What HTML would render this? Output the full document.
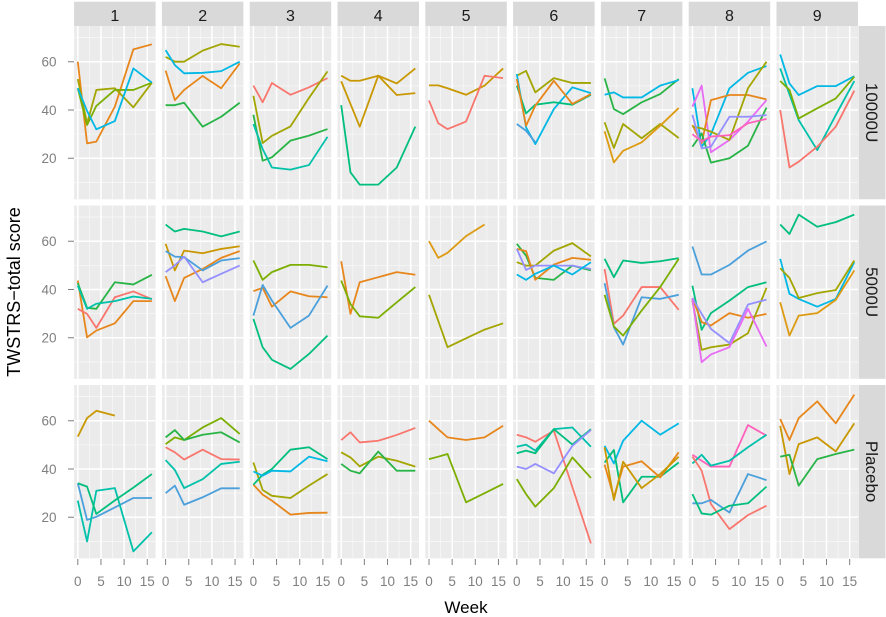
<!DOCTYPE html>
<html>
<head>
<meta charset="utf-8">
<style>
html,body{margin:0;padding:0;background:#fff;}
svg{display:block;}
polyline{fill:none;stroke-width:1.8;vector-effect:non-scaling-stroke;stroke-linejoin:round;stroke-linecap:butt;}
.R{stroke:#F8766D}.O{stroke:#E7861B}.G1{stroke:#C99800}.OL{stroke:#A3A500}.LG{stroke:#7CAE00}
.GR{stroke:#28B446}.TG{stroke:#00BF7D}.TL{stroke:#00C1AA}.CY{stroke:#00B8E5}.BL{stroke:#4BA0DC}
.PU{stroke:#9590FF}.PK{stroke:#E76BF3}.MG{stroke:#FF62BC}.O2{stroke:#DE9A10}
.tk{font-family:"Liberation Sans",Arial,sans-serif;font-size:13.5px;fill:#7F7F7F;}
.st{font-family:"Liberation Sans",Arial,sans-serif;font-size:16px;fill:#1A1A1A;}
.ti{font-family:"Liberation Sans",Arial,sans-serif;fill:#000;}
</style>
</head>
<body>
<svg width="886" height="617" viewBox="0 0 886 617" xmlns="http://www.w3.org/2000/svg">
<defs>
<g id="pn">
<rect width="81.5" height="173.3" fill="#EBEBEB"/>
<path d="M15.28 0V173.3M38.43 0V173.3M61.59 0V173.3M0 11.55H81.5M0 59.85H81.5M0 108.15H81.5M0 156.45H81.5" stroke="#F7F7F7" stroke-width="0.8" fill="none"/>
<path d="M3.7 0V173.3M26.86 0V173.3M50.01 0V173.3M73.17 0V173.3M0 35.7H81.5M0 84H81.5M0 132.3H81.5" stroke="#FFFFFF" stroke-width="1.5" fill="none"/>
</g>
</defs>

<!-- panels -->
<g>
<use href="#pn" x="74.1" y="26"/><use href="#pn" x="161.9" y="26"/><use href="#pn" x="249.7" y="26"/><use href="#pn" x="337.5" y="26"/><use href="#pn" x="425.3" y="26"/><use href="#pn" x="513.1" y="26"/><use href="#pn" x="600.9" y="26"/><use href="#pn" x="688.7" y="26"/><use href="#pn" x="776.5" y="26"/>
<use href="#pn" x="74.1" y="205.5"/><use href="#pn" x="161.9" y="205.5"/><use href="#pn" x="249.7" y="205.5"/><use href="#pn" x="337.5" y="205.5"/><use href="#pn" x="425.3" y="205.5"/><use href="#pn" x="513.1" y="205.5"/><use href="#pn" x="600.9" y="205.5"/><use href="#pn" x="688.7" y="205.5"/><use href="#pn" x="776.5" y="205.5"/>
<use href="#pn" x="74.1" y="385"/><use href="#pn" x="161.9" y="385"/><use href="#pn" x="249.7" y="385"/><use href="#pn" x="337.5" y="385"/><use href="#pn" x="425.3" y="385"/><use href="#pn" x="513.1" y="385"/><use href="#pn" x="600.9" y="385"/><use href="#pn" x="688.7" y="385"/><use href="#pn" x="776.5" y="385"/>
</g>

<!-- top strips -->
<g fill="#D9D9D9">
<rect x="74.1" y="1.7" width="81.5" height="24.3"/><rect x="161.9" y="1.7" width="81.5" height="24.3"/><rect x="249.7" y="1.7" width="81.5" height="24.3"/><rect x="337.5" y="1.7" width="81.5" height="24.3"/><rect x="425.3" y="1.7" width="81.5" height="24.3"/><rect x="513.1" y="1.7" width="81.5" height="24.3"/><rect x="600.9" y="1.7" width="81.5" height="24.3"/><rect x="688.7" y="1.7" width="81.5" height="24.3"/><rect x="776.5" y="1.7" width="81.5" height="24.3"/>
<rect x="858.5" y="26" width="27" height="173.3"/><rect x="858.5" y="205.5" width="27" height="173.3"/><rect x="858.5" y="385" width="27" height="173.3"/>
</g>
<g class="st" text-anchor="middle">
<text x="114.85" y="20.8">1</text><text x="202.65" y="20.8">2</text><text x="290.45" y="20.8">3</text><text x="378.25" y="20.8">4</text><text x="466.05" y="20.8">5</text><text x="553.85" y="20.8">6</text><text x="641.65" y="20.8">7</text><text x="729.45" y="20.8">8</text><text x="817.25" y="20.8">9</text>
</g>
<g class="st" text-anchor="middle" style="font-size:17px">
<text transform="translate(866,112.65) rotate(90)">10000U</text>
<text transform="translate(866,292.15) rotate(90)">5000U</text>
<text transform="translate(866,471.65) rotate(90)">Placebo</text>
</g>

<!-- ticks -->
<path stroke="#7F7F7F" stroke-width="1" fill="none" d="M68 61.7H74M68 110H74M68 158.3H74M68 241.2H74M68 289.5H74M68 337.8H74M68 420.7H74M68 469H74M68 517.3H74
M77.8 559V565M100.96 559V565M124.11 559V565M147.27 559V565
M165.6 559V565M188.76 559V565M211.91 559V565M235.07 559V565
M253.4 559V565M276.56 559V565M299.71 559V565M322.87 559V565
M341.2 559V565M364.36 559V565M387.51 559V565M410.67 559V565
M429 559V565M452.16 559V565M475.31 559V565M498.47 559V565
M516.8 559V565M539.96 559V565M563.11 559V565M586.27 559V565
M604.6 559V565M627.76 559V565M650.91 559V565M674.07 559V565
M692.4 559V565M715.56 559V565M738.71 559V565M761.87 559V565
M780.2 559V565M803.36 559V565M826.51 559V565M849.67 559V565"/>

<g class="tk" text-anchor="end">
<text x="56.5" y="66.5">60</text><text x="56.5" y="114.8">40</text><text x="56.5" y="163.1">20</text>
<text x="56.5" y="246">60</text><text x="56.5" y="294.3">40</text><text x="56.5" y="342.6">20</text>
<text x="56.5" y="425.5">60</text><text x="56.5" y="473.8">40</text><text x="56.5" y="522.1">20</text>
</g>
<g class="tk" text-anchor="middle">
<text x="77.8" y="586">0</text><text x="100.96" y="586">5</text><text x="124.11" y="586">10</text><text x="147.27" y="586">15</text>
<text x="165.6" y="586">0</text><text x="188.76" y="586">5</text><text x="211.91" y="586">10</text><text x="235.07" y="586">15</text>
<text x="253.4" y="586">0</text><text x="276.56" y="586">5</text><text x="299.71" y="586">10</text><text x="322.87" y="586">15</text>
<text x="341.2" y="586">0</text><text x="364.36" y="586">5</text><text x="387.51" y="586">10</text><text x="410.67" y="586">15</text>
<text x="429" y="586">0</text><text x="452.16" y="586">5</text><text x="475.31" y="586">10</text><text x="498.47" y="586">15</text>
<text x="516.8" y="586">0</text><text x="539.96" y="586">5</text><text x="563.11" y="586">10</text><text x="586.27" y="586">15</text>
<text x="604.6" y="586">0</text><text x="627.76" y="586">5</text><text x="650.91" y="586">10</text><text x="674.07" y="586">15</text>
<text x="692.4" y="586">0</text><text x="715.56" y="586">5</text><text x="738.71" y="586">10</text><text x="761.87" y="586">15</text>
<text x="780.2" y="586">0</text><text x="803.36" y="586">5</text><text x="826.51" y="586">10</text><text x="849.67" y="586">15</text>
</g>

<text class="ti" x="466" y="613" text-anchor="middle" style="font-size:17px">Week</text>
<text class="ti" transform="translate(20,292) rotate(-90)" text-anchor="middle" style="font-size:18px">TWSTRS&#8722;total score</text>

<!-- ROW 1: 10000U -->
<g transform="translate(77.8,206.6) scale(4.631,-2.415)">
<polyline class="O" points="0,60 2,26.2 4,26.9 8,41.4 12,65.1 16,67.2"/>
<polyline class="OL" points="0,52.8 2,34.4 4,48.3 8,49 12,41.1 16,51.3"/>
<polyline class="LG" points="0,49 2,33.8 4,41.7 8,48.3 12,48.3 16,51.3"/>
<polyline class="CY" points="0,49 2,39.6 4,32 8,35.4 12,57.2 16,51.3"/>
</g>
<g transform="translate(165.6,206.6) scale(4.631,-2.415)">
<polyline class="OL" points="0,62 2,60 4,60 8,64.6 12,67.3 16,66.2"/>
<polyline class="CY" points="0,64.8 2,58.6 4,55.2 8,55.4 12,56.1 16,60"/>
<polyline class="O" points="0,56.3 2,44.1 4,48.3 8,54.1 12,49 16,59.3"/>
<polyline class="GR" points="0,42 2,42 4,43 8,33.1 12,37.2 16,43"/>
</g>
<g transform="translate(253.4,206.6) scale(4.631,-2.415)">
<polyline class="R" points="0,50.1 2,43.2 4,51.2 8,46.3 12,49.4 16,53.2"/>
<polyline class="OL" points="0,45.9 2,26.3 4,29.3 8,33.2 12,45 16,56"/>
<polyline class="GR" points="0,38 2,19 4,20.4 8,27.3 12,29.4 16,32.1"/>
<polyline class="TL" points="0,34.2 2,23.8 4,16.2 8,15.3 12,17.2 16,28.9"/>
</g>
<g transform="translate(341.2,206.6) scale(4.631,-2.415)">
<polyline class="G1" points="0,54.2 2,52.1 4,52.1 8,54.2 12,51 16,57.2"/>
<polyline class="G1" points="0,51.9 2,42.5 4,33.1 8,54.2 12,46.2 16,47"/>
<polyline class="TG" points="0,42 2,14.2 4,9.1 8,9.1 12,16.2 16,33.1"/>
</g>
<g transform="translate(429,206.6) scale(4.631,-2.415)">
<polyline class="G1" points="0,50.2 2,50.2 4,49 8,46.3 12,50.1 16,57.2"/>
<polyline class="R" points="0,43.9 2,34.5 4,32.1 8,35.2 12,54.2 16,53.2"/>
</g>
<g transform="translate(516.8,206.6) scale(4.631,-2.415)">
<polyline class="OL" points="0,54.2 2,56.2 4,47.3 8,53.2 12,51.2 16,51.2"/>
<polyline class="CY" points="0,54.9 2,32.8 4,25.9 8,40.4 12,49.4 16,47"/>
<polyline class="TG" points="0,50.1 2,38.6 4,42.2 8,43.2 12,42.2 16,46.3"/>
<polyline class="O" points="0,52.8 2,33.5 4,41.8 8,52.1 12,42.5 16,46.6"/>
<polyline class="BL" points="0,34.2 2,31.4 4,26.6"/>
</g>
<g transform="translate(604.6,206.6) scale(4.631,-2.415)">
<polyline class="GR" points="0,53.1 2,40.4 4,38.3 8,43.2 12,46.6 16,52.8"/>
<polyline class="CY" points="0,46.3 2,47.3 4,45.2 8,45.2 12,50.1 16,52.4"/>
<polyline class="OL" points="0,34.9 2,24.3 4,34.2 8,28.3 12,34.2 16,28.4"/>
<polyline class="O2" points="0,31.2 2,18.3 4,23.1 8,26.6 12,33.5 16,40.8"/>
</g>
<g transform="translate(692.4,206.6) scale(4.631,-2.415)">
<polyline class="CY" points="0,49 2,24.8 4,30 8,49 12,55.4 16,58.2"/>
<polyline class="PK" points="0,41.4 2,50.1 4,22.5 8,27.6 12,35.2 16,44.1"/>
<polyline class="O" points="0,33.8 2,26.2 4,44.1 8,46.2 12,46.2 16,44.4"/>
<polyline class="OL" points="0,33.1 2,32.4 4,31 8,27.6 12,49 16,60"/>
<polyline class="GR" points="0,24.8 2,30.3 4,18.2 8,20 12,25.2 16,41"/>
<polyline class="PU" points="0,38 2,24.1 4,24.8 8,37.2 12,37.2 16,37.9"/>
<polyline class="MG" points="0,30 2,27 4,29 8,29.6 12,34.5 16,36.3"/>
</g>
<g transform="translate(780.2,206.6) scale(4.631,-2.415)">
<polyline class="CY" points="0,63 2,51 4,46.2 8,49.9 12,49.9 16,54"/>
<polyline class="TL" points="0,57.2 2,46.5 4,35.8 8,23.4 12,37.9 16,52"/>
<polyline class="LG" points="0,52 2,48.3 4,36.5 8,40.7 12,44.8 16,53.8"/>
<polyline class="R" points="0,40 2,16.2 4,18.6 8,24.8 12,33.1 16,48"/>
</g>

<!-- ROW 2: 5000U -->
<g transform="translate(77.8,386.1) scale(4.631,-2.415)">
<polyline class="O" points="0,43.7 2,20.2 4,23 8,26 12,35.2 16,35.2"/>
<polyline class="R" points="0,32 2,29.9 4,24.1 8,36.8 12,39.2 16,36"/>
<polyline class="GR" points="0,42.6 2,32.4 4,32 8,43 12,42.1 16,46.1"/>
<polyline class="TL" points="0,41.6 2,32 4,34.1 8,35.2 12,37.1 16,36.1"/>
</g>
<g transform="translate(165.6,386.1) scale(4.631,-2.415)">
<polyline class="TG" points="0,66.9 2,64 4,65.1 8,64 12,62 16,64"/>
<polyline class="G1" points="0,58.9 2,47.9 4,56.1 8,55 12,56.8 16,57.9"/>
<polyline class="O" points="0,45.5 2,35.2 4,44.8 8,48.5 12,53.1 16,55.9"/>
<polyline class="BL" points="0,55.9 2,53.6 4,53.4 8,47.9 12,52 16,53"/>
<polyline class="PU" points="0,47.2 2,50 4,53.6 8,43 12,46.5 16,49.9"/>
</g>
<g transform="translate(253.4,386.1) scale(4.631,-2.415)">
<polyline class="LG" points="0,52 2,44 4,47.2 8,50.2 12,50.2 16,49.2"/>
<polyline class="O" points="0,39.3 2,40.7 4,32.9 8,39.2 12,37.2 16,36.8"/>
<polyline class="BL" points="0,29.2 2,41.9 4,35.4 8,24.1 12,29.2 16,41.6"/>
<polyline class="TG" points="0,27.8 2,16.1 4,10.9 8,7.1 12,13.3 16,20.9"/>
</g>
<g transform="translate(341.2,386.1) scale(4.631,-2.415)">
<polyline class="O" points="0,51.7 2,29.9 4,43 8,45.1 12,47.2 16,46.1"/>
<polyline class="LG" points="0,43.7 2,34 4,28.9 8,28.3 12,34.7 16,41"/>
</g>
<g transform="translate(429,386.1) scale(4.631,-2.415)">
<polyline class="O2" points="0,60 2,53.1 4,55.2 8,62.1 12,66.9"/>
<polyline class="OL" points="0,37.8 2,27 4,16.1 8,19.8 12,23.4 16,26"/>
</g>
<g transform="translate(516.8,386.1) scale(4.631,-2.415)">
<polyline class="GR" points="0,58.9 2,54 4,44.8 8,44 12,49.9 16,47.9"/>
<polyline class="OL" points="0,51.3 2,49.9 4,49.9 8,56.1 12,59.2 16,53.7"/>
<polyline class="O" points="0,56.8 2,55.9 4,44 8,50.3 12,53.1 16,52.3"/>
<polyline class="PU" points="0,56.8 2,48.1 4,49.9 8,49.9 12,49.9 16,48.5"/>
<polyline class="CY" points="0,46.2 2,44 4,46.5 8,49.9 12,46.2 16,51.3"/>
</g>
<g transform="translate(604.6,386.1) scale(4.631,-2.415)">
<polyline class="TG" points="0,52.7 2,45.1 4,52 8,51 12,51.7 16,53"/>
<polyline class="R" points="0,48.5 2,25.8 4,29.2 8,41 12,41 16,31.6"/>
<polyline class="BL" points="0,42.6 2,24.4 4,17.2 8,36.8 12,36.1 16,37.8"/>
<polyline class="LG" points="0,37.8 2,24.7 4,20.9 8,31.3 12,41 16,52.7"/>
</g>
<g transform="translate(692.4,386.1) scale(4.631,-2.415)">
<polyline class="BL" points="0,57.8 2,46.2 4,46.2 8,50.2 12,56.1 16,59.9"/>
<polyline class="TG" points="0,41.6 2,23.3 4,30.2 8,35.4 12,41 16,43"/>
<polyline class="O" points="0,36.5 2,26.5 4,25.1 8,30.2 12,28.3 16,29.9"/>
<polyline class="OL" points="0,35.4 2,15 4,16.1 8,17.2 12,21.9 16,40.7"/>
<polyline class="PU" points="0,36.5 2,29.9 4,23.7 8,17.8 12,33.8 16,35.8"/>
<polyline class="PK" points="0,36 2,9.9 4,13.1 8,16.1 12,32 16,16.4"/>
</g>
<g transform="translate(780.2,386.1) scale(4.631,-2.415)">
<polyline class="TG" points="0,66.9 2,63 4,71 8,66 12,67.9 16,71"/>
<polyline class="CY" points="0,52.7 2,38.2 4,36.1 8,32.9 12,36.1 16,51.3"/>
<polyline class="OL" points="0,48.8 2,44.8 4,36.5 8,38.5 12,39.8 16,52"/>
<polyline class="O2" points="0,34.7 2,20.9 4,29.2 8,30.2 12,35.7 16,47.9"/>
</g>

<!-- ROW 3: Placebo -->
<g transform="translate(77.8,565.6) scale(4.631,-2.415)">
<polyline class="G1" points="0,53.4 2,61.1 4,64.1 8,62.1"/>
<polyline class="BL" points="0,34.1 2,18.9 4,20.2 8,24.1 12,28 16,28"/>
<polyline class="TL" points="0,26.9 2,10 4,31 8,32.1 12,5.9 16,13.8"/>
<polyline class="TG" points="0,34.1 2,32.7 4,21.4 8,27 12,32.3 16,37.9"/>
</g>
<g transform="translate(165.6,565.6) scale(4.631,-2.415)">
<polyline class="LG" points="0,50.3 2,53.1 4,52 8,57.2 12,61.1 16,54.5"/>
<polyline class="GR" points="0,53.1 2,56.1 4,52 8,54.2 12,55.2 16,51"/>
<polyline class="R" points="0,49 2,46.9 4,43.9 8,48 12,44.1 16,43.9"/>
<polyline class="TL" points="0,43.7 2,39.6 4,32.1 8,35.8 12,42.1 16,43"/>
<polyline class="BL" points="0,30 2,33.1 4,25.2 8,28.3 12,32 16,32"/>
</g>
<g transform="translate(253.4,565.6) scale(4.631,-2.415)">
<polyline class="OL" points="0,42.7 2,31.3 4,28.9 8,28 12,33.1 16,37.9"/>
<polyline class="O" points="0,33.5 2,29.4 4,26.9 8,21.1 12,21.8 16,21.9"/>
<polyline class="TG" points="0,33.5 2,37.6 4,40 8,48 12,49 16,44.1"/>
<polyline class="CY" points="0,39 2,37.2 4,39.3 8,39 12,45.1 16,43.2"/>
</g>
<g transform="translate(341.2,565.6) scale(4.631,-2.415)">
<polyline class="R" points="0,52 2,55.2 4,51 8,51.7 12,54.1 16,57"/>
<polyline class="OL" points="0,46.9 2,44.8 4,41.1 8,45.1 12,43.4 16,41"/>
<polyline class="GR" points="0,42.1 2,39.3 4,38.2 8,47.2 12,39.3 16,39.3"/>
</g>
<g transform="translate(429,565.6) scale(4.631,-2.415)">
<polyline class="O" points="0,60 2,56.5 4,53.1 8,52 12,53.1 16,57.9"/>
<polyline class="LG" points="0,44.1 2,45.1 4,46.2 8,26.2 12,30 16,33.8"/>
</g>
<g transform="translate(516.8,565.6) scale(4.631,-2.415)">
<polyline class="R" points="0,54.2 2,53.1 4,51.3 8,55.9 12,32.5 16,9.2"/>
<polyline class="TL" points="0,49.2 2,50.1 4,47.6 8,56.5 12,57.2 16,49.2"/>
<polyline class="TG" points="0,46.5 2,47.6 4,46.5 8,56.5 12,50.1 16,56.5"/>
<polyline class="PU" points="0,41 2,40 4,42.1 8,38.2 12,49.6 16,56.1"/>
<polyline class="LG" points="0,35.8 2,29.6 4,24.4 8,32.1 12,44.8 16,36.3"/>
</g>
<g transform="translate(604.6,565.6) scale(4.631,-2.415)">
<polyline class="CY" points="0,49.6 2,42.3 4,51.7 8,60 12,54.2 16,58.9"/>
<polyline class="TG" points="0,42.7 2,47.9 4,26.2 8,36.8 12,36.8 16,42.7"/>
<polyline class="O" points="0,41.8 2,28.3 4,41 8,43.2 12,36.5 16,46.9"/>
<polyline class="G1" points="0,49 2,27.2 4,43 8,32.1 12,37.9 16,45.1"/>
</g>
<g transform="translate(692.4,565.6) scale(4.631,-2.415)">
<polyline class="MG" points="0,45.9 2,43.4 4,41 8,41 12,58.2 16,53.8"/>
<polyline class="TL" points="0,42.3 2,45.9 4,41.4 8,43.4 12,49 16,54.2"/>
<polyline class="R" points="0,45.1 2,39.3 4,25.5 8,15.1 12,20.9 16,24.8"/>
<polyline class="BL" points="0,25.8 2,25.8 4,27.2 8,22 12,37.9 16,35.4"/>
<polyline class="TG" points="0,29.6 2,21.6 4,21.1 8,24.8 12,25.8 16,32.7"/>
</g>
<g transform="translate(780.2,565.6) scale(4.631,-2.415)">
<polyline class="O" points="0,60.7 2,52 4,61.1 8,68 12,58.9 16,70.8"/>
<polyline class="G1" points="0,57.9 2,37.9 4,50.3 8,53.1 12,47.3 16,58.9"/>
<polyline class="GR" points="0,45.1 2,45.9 4,33.1 8,44.1 12,46.2 16,48"/>
</g>
</svg>
</body>
</html>
